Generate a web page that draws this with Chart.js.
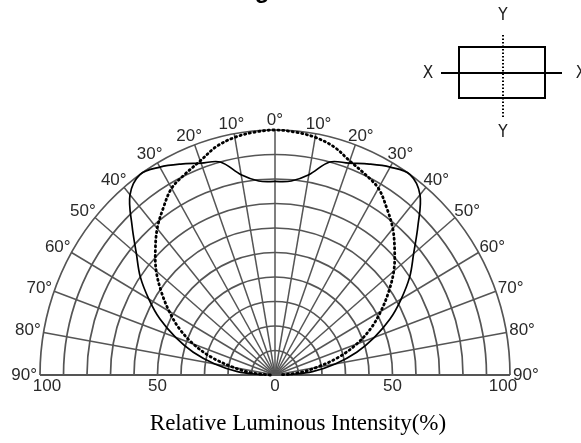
<!DOCTYPE html>
<html>
<head>
<meta charset="utf-8">
<script src="https://cdn.jsdelivr.net/npm/chart.js@4.4.1/dist/chart.umd.min.js"></script>
<style>
    html, body { margin: 0; padding: 0; background: #fff; }
    #wrap { position: relative; width: 581px; height: 443px; }
</style>
</head>
<body>
<div id="wrap"><canvas id="polar"></canvas></div>
<script>
// emission angle off axis (deg, one side; the pattern is mirrored)
const angles = [0, 5, 10, 15, 20, 25, 30, 35, 40, 45, 50, 55, 60, 65, 70, 75, 80, 85, 90];
// relative luminous intensity (%) along X (solid) and Y (dotted)
const xDirection = [79, 79.5, 83, 90, 92, 95, 98, 100, 96, 86, 77, 70, 62, 54, 45, 36, 26, 16, 5];
const yDirection = [100, 99.5, 98.5, 96.5, 93, 90.5, 88, 83, 78, 72, 66, 59, 52, 45, 37, 28, 18, 10, 2];

const ringSteps = [10, 20, 30, 40, 50, 60, 70, 80, 90, 100];
const spokeAngles = [-90, -80, -70, -60, -50, -40, -30, -20, -10, 0, 10, 20, 30, 40, 50, 60, 70, 80, 90];
const degreeLabels = [0, 10, 20, 30, 40, 50, 60, 70, 80, 90];
const bottomTicks = [-100, -50, 0, 50, 100];

function polar(deg, r) {
    const t = deg * Math.PI / 180;
    return { x: r * Math.sin(t), y: r * Math.cos(t) };
}

function toPoints(values) {
    const pts = [];
    for (let i = angles.length - 1; i > 0; i--) pts.push(polar(-angles[i], values[i]));
    for (let i = 0; i < angles.length; i++) pts.push(polar(angles[i], values[i]));
    return pts;
}

const polarGrid = {
    id: 'polarGrid',
    beforeDatasetsDraw(chart) {
        const { ctx, scales: { x, y } } = chart;
        const cx = x.getPixelForValue(0), cy = y.getPixelForValue(0);
        const rx = v => x.getPixelForValue(v) - cx;
        const ry = v => cy - y.getPixelForValue(v);

        ctx.save();
        ctx.strokeStyle = '#555';
        ctx.lineWidth = 1.7;
        ringSteps.forEach(r => {
            ctx.beginPath();
            ctx.ellipse(cx, cy, rx(r), ry(r), 0, Math.PI, 2 * Math.PI);
            ctx.stroke();
        });
        ctx.lineWidth = 1.5;
        spokeAngles.forEach(a => {
            const p = polar(a, 100);
            ctx.beginPath();
            ctx.moveTo(cx, cy);
            ctx.lineTo(x.getPixelForValue(p.x), y.getPixelForValue(p.y));
            ctx.stroke();
        });
        ctx.lineWidth = 1.8;
        ctx.beginPath();
        ctx.moveTo(x.getPixelForValue(-100), cy);
        ctx.lineTo(x.getPixelForValue(100), cy);
        ctx.stroke();

        // angle labels round the outer ring
        ctx.fillStyle = '#2a2a2a';
        ctx.font = '17px "Liberation Sans", Arial, sans-serif';
        ctx.textAlign = 'center';
        ctx.textBaseline = 'middle';
        degreeLabels.forEach(a => {
            [-1, 1].forEach(side => {
                if (a === 0 && side === 1) return;
                const t = side * a * Math.PI / 180;
                const p = polar(side * a, 100);
                const txt = a + '°';
                const w = ctx.measureText(txt).width;
                const px = x.getPixelForValue(p.x) + Math.sin(t) * (w / 2 + 3);
                const py = y.getPixelForValue(p.y) - Math.cos(t) * 9.5;
                ctx.fillText(txt, px, py);
            });
        });

        // intensity ticks under the base line
        bottomTicks.forEach(v => {
            let px = x.getPixelForValue(v);
            if (v === -100) px += 7;
            if (v === 100) px -= 7;
            ctx.fillText(String(Math.abs(v)), px, cy + 11);
        });
        ctx.restore();
    },
    afterDraw(chart) {
        const { ctx, scales: { x } } = chart;
        ctx.save();
        ctx.fillStyle = '#000';

        // title, cut off by the top edge
        ctx.font = 'bold 24px "Liberation Sans", Arial, sans-serif';
        ctx.textAlign = 'left';
        ctx.textBaseline = 'alphabetic';
        const pre = ctx.measureText('Radiation Dia').width;
        const gw = ctx.measureText('g').width;
        ctx.fillText('Radiation Diagram', 262 - pre - gw / 2, -2);

        // axis caption
        ctx.font = '23px "Liberation Serif", "Times New Roman", serif';
        ctx.textAlign = 'center';
        ctx.fillText('Relative Luminous Intensity(%)', x.getPixelForValue(0) + 23, 430);

        // orientation sketch (X solid, Y dotted)
        ctx.strokeStyle = '#000';
        ctx.lineWidth = 2;
        ctx.strokeRect(459, 47, 86, 51);
        ctx.beginPath();
        ctx.moveTo(441, 73);
        ctx.lineTo(562, 73);
        ctx.stroke();
        ctx.setLineDash([1.5, 2]);
        ctx.beginPath();
        ctx.moveTo(503, 35);
        ctx.lineTo(503, 117);
        ctx.stroke();
        ctx.setLineDash([]);
        ctx.font = '17px "Liberation Sans Narrow", "DejaVu Sans Condensed", sans-serif';
        ctx.textBaseline = 'middle';
        ctx.fillStyle = '#222';
        ctx.fillText('Y', 503, 16);
        ctx.fillText('Y', 503, 133);
        ctx.fillText('X', 428, 74);
        ctx.fillText('X', 581, 74);
        ctx.restore();
    }
};

new Chart(document.getElementById('polar'), {
    type: 'scatter',
    data: {
        datasets: [{
            label: 'X',
            data: toPoints(xDirection),
            showLine: true,
            borderColor: '#000',
            borderWidth: 1.7,
            tension: 0.35,
            pointRadius: 0,
            clip: false
        }, {
            label: 'Y',
            data: toPoints(yDirection),
            showLine: true,
            borderColor: '#000',
            borderWidth: 2.8,
            borderDash: [1.2, 3.6],
            borderCapStyle: 'round',
            tension: 0.35,
            pointRadius: 0,
            clip: false
        }]
    },
    options: {
        responsive: true,
        maintainAspectRatio: false,
        animation: false,
        layout: { padding: { left: 40, right: 71, top: 130, bottom: 68 } },
        plugins: {
            legend: { display: false },
            tooltip: { enabled: false },
            title: { display: false }
        },
        scales: {
            x: { type: 'linear', min: -100, max: 100, display: false },
            y: { type: 'linear', min: 0, max: 100, display: false }
        }
    },
    plugins: [polarGrid]
});
</script>
</body>
</html>
